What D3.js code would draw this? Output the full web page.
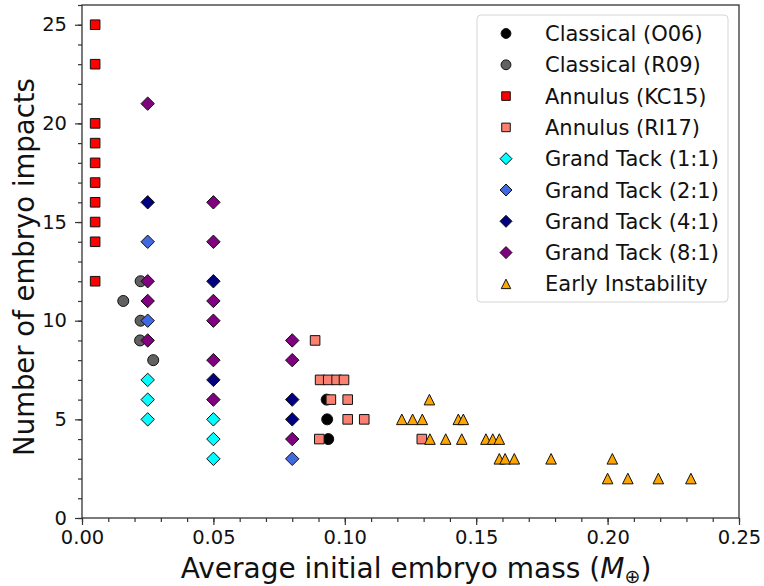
<!DOCTYPE html>
<meta charset="utf-8">
<head>
<style>
body { margin: 0; background: #fff; }
svg text { font-family: "DejaVu Sans", sans-serif; }
</style>
</head>
<body>
<svg width="764" height="586"></svg>

<script src="https://cdn.jsdelivr.net/npm/d3@7"></script>
<script>
// one [mass, impacts] list per series
var classicalO06 = [[0.0931, 6], [0.0933, 5], [0.0937, 4]];
var classicalR09 = [[0.0157, 11], [0.0223, 12], [0.0223, 10], [0.0221, 9], [0.0271, 8]];
var annulusKC15 = [[0.005, 25], [0.005, 23], [0.005, 20], [0.005, 19], [0.005, 18],
                   [0.005, 17], [0.005, 16], [0.005, 15], [0.005, 14], [0.005, 12]];
var annulusRI17 = [[0.0887, 9], [0.0906, 7], [0.0937, 7], [0.0969, 7], [0.0997, 7],
                   [0.0947, 6], [0.1011, 6], [0.1011, 5], [0.1074, 5], [0.0903, 4], [0.1293, 4]];
var grandTack11 = [[0.025, 7], [0.025, 6], [0.025, 5], [0.05, 5], [0.05, 4], [0.05, 3]];
var grandTack21 = [[0.025, 14], [0.025, 10], [0.08, 3]];
var grandTack41 = [[0.025, 16], [0.05, 12], [0.05, 7], [0.08, 6], [0.08, 5]];
var grandTack81 = [[0.025, 21], [0.025, 12], [0.025, 11], [0.025, 9],
                   [0.05, 16], [0.05, 14], [0.05, 11], [0.05, 10], [0.05, 8], [0.05, 6],
                   [0.08, 9], [0.08, 8], [0.08, 4]];
var earlyInstability = [[0.1322, 6],
                   [0.1217, 5], [0.1258, 5], [0.1295, 5], [0.1432, 5], [0.1451, 5],
                   [0.1324, 4], [0.1384, 4], [0.1445, 4], [0.1537, 4], [0.1563, 4], [0.1588, 4],
                   [0.1588, 3], [0.1610, 3], [0.1645, 3], [0.1785, 3], [0.2018, 3],
                   [0.2000, 2], [0.2077, 2], [0.2193, 2], [0.2317, 2]];

var seriesNames = ["Classical (O06)", "Classical (R09)", "Annulus (KC15)", "Annulus (RI17)",
                   "Grand Tack (1:1)", "Grand Tack (2:1)", "Grand Tack (4:1)", "Grand Tack (8:1)",
                   "Early Instability"];
var xTicks = [0, 0.05, 0.10, 0.15, 0.20, 0.25];
var yTicks = [0, 5, 10, 15, 20, 25];

// marker shapes (matplotlib style: triangle and diamond centred on their box)
var triangle = { draw: function(ctx, size) {
  var h = Math.sqrt(size) / 2;
  ctx.moveTo(0, -h); ctx.lineTo(h, h); ctx.lineTo(-h, h); ctx.closePath();
}};
var diamond = { draw: function(ctx, size) {
  var h = Math.sqrt(size) / 2;
  ctx.moveTo(0, -h); ctx.lineTo(h, 0); ctx.lineTo(0, h); ctx.lineTo(-h, 0); ctx.closePath();
}};

var series = [
  {data: classicalO06, color: "#000000", shape: d3.symbolCircle, size: 95},
  {data: classicalR09, color: "#616161", shape: d3.symbolCircle, size: 95},
  {data: annulusKC15, color: "#ff0000", shape: d3.symbolSquare, size: 92},
  {data: annulusRI17, color: "#fa8072", shape: d3.symbolSquare, size: 92},
  {data: grandTack11, color: "#00ffff", shape: diamond, size: 180},
  {data: grandTack21, color: "#4169e1", shape: diamond, size: 180},
  {data: grandTack41, color: "#000080", shape: diamond, size: 180},
  {data: grandTack81, color: "#800080", shape: diamond, size: 180},
  {data: earlyInstability, color: "#ffa500", shape: triangle, size: 112}
];

var svg = d3.select("svg"),
    margin = {left: 82, right: 25, top: 5, bottom: 68},
    width = 764 - margin.left - margin.right,
    height = 586 - margin.top - margin.bottom;

var x = d3.scaleLinear().domain([0, 0.25]).range([margin.left, margin.left + width]);
var y = d3.scaleLinear().domain([0, 26]).range([margin.top + height, margin.top]);

// minor ticks
svg.append("g")
    .attr("transform", "translate(0," + y(0) + ")")
    .call(d3.axisBottom(x).tickValues(d3.range(0, 26).map(function(i) { return i / 100; }))
      .tickSize(4).tickFormat(""));
svg.append("g")
    .attr("transform", "translate(" + x(0) + ",0)")
    .call(d3.axisLeft(y).tickValues(d3.range(0, 27)).tickSize(4).tickFormat(""));

// major ticks
var xAxis = svg.append("g")
    .attr("transform", "translate(0," + y(0) + ")")
    .call(d3.axisBottom(x).tickValues(xTicks).tickFormat(d3.format(".2f"))
      .tickSize(7).tickPadding(5));
var yAxis = svg.append("g")
    .attr("transform", "translate(" + x(0) + ",0)")
    .call(d3.axisLeft(y).tickValues(yTicks).tickSize(7).tickPadding(8));

svg.selectAll(".domain").remove();
svg.selectAll(".tick line").attr("stroke", "#333").attr("stroke-width", 1.2);
svg.selectAll(".tick text").attr("font-size", 19.5).attr("fill", "#111")
    .style("font-family", "DejaVu Sans");

// frame
svg.append("rect")
    .attr("x", x(0)).attr("y", y(26))
    .attr("width", x(0.25) - x(0)).attr("height", y(0) - y(26))
    .attr("fill", "none").attr("stroke", "#333").attr("stroke-width", 1.3);

// points
series.forEach(function(s) {
  svg.append("g").selectAll("path")
      .data(s.data)
    .enter().append("path")
      .attr("transform", function(d) { return "translate(" + x(d[0]) + "," + y(d[1]) + ")"; })
      .attr("d", d3.symbol().type(s.shape).size(s.size))
      .attr("fill", s.color)
      .attr("stroke", "#111")
      .attr("stroke-width", 1);
});

// legend
var legend = svg.append("g");
legend.append("rect")
    .attr("x", 477).attr("y", 15).attr("width", 251).attr("height", 287).attr("rx", 4)
    .attr("fill", "#fff").attr("fill-opacity", 0.8)
    .attr("stroke", "#d6d6d6").attr("stroke-width", 1);
series.forEach(function(s, i) {
  var yy = 33.5 + i * 31.3;
  legend.append("path")
      .attr("transform", "translate(506," + yy + ")")
      .attr("d", d3.symbol().type(s.shape).size(s.size * 0.8))
      .attr("fill", s.color)
      .attr("stroke", "#111")
      .attr("stroke-width", 1);
  legend.append("text")
      .attr("x", 545).attr("y", yy).attr("dy", "0.36em")
      .attr("font-size", 21).attr("fill", "#111")
      .text(seriesNames[i]);
});

// axis labels
var xl = svg.append("text")
    .attr("x", 416).attr("y", 578)
    .attr("text-anchor", "middle").attr("font-size", 28).attr("fill", "#111");
xl.append("tspan").text("Average initial embryo mass (");
xl.append("tspan").attr("font-style", "italic").text("M");
xl.append("tspan").attr("font-size", 19).attr("dy", 5).text("\u2295");
xl.append("tspan").attr("dy", -5).text(")");

svg.append("text")
    .attr("transform", "translate(34," + 267 + ") rotate(-90)")
    .attr("text-anchor", "middle").attr("font-size", 27.5).attr("fill", "#111")
    .text("Number of embryo impacts");
</script>
</body>
